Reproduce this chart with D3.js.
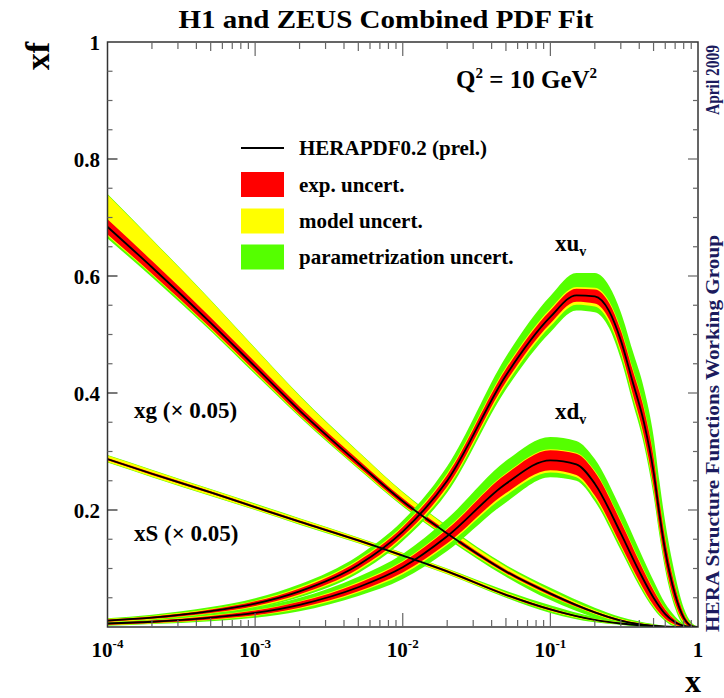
<!DOCTYPE html>
<html><head><meta charset="utf-8">
<script src="https://cdn.jsdelivr.net/npm/d3@7"></script>
<style>body{margin:0;background:#fff}svg{display:block}text{font-family:"Liberation Serif","DejaVu Serif",serif;font-weight:bold}</style>
</head><body><svg id="c" width="724" height="698"></svg>
<script>
// ---- data ----
const yTicks = [0.2, 0.4, 0.6, 0.8, 1];
const yTickLabels = ["0.2", "0.4", "0.6", "0.8", "1"];
const xDecades = [1e-4, 1e-3, 1e-2, 1e-1, 1];
const xDecadeExp = ["-4", "-3", "-2", "-1", ""];

const xuvX = [1e-4, 2e-4, 5e-4, 1e-3, 2e-3, 5e-3, 1e-2, 2e-2, 5e-2, 0.1, 0.15, 0.2, 0.25, 0.3, 0.36, 0.43, 0.5, 0.55, 0.6, 0.7, 0.8, 0.9, 1];
const xuvC = [0.011, 0.016, 0.027, 0.04, 0.061, 0.106, 0.163, 0.25, 0.43, 0.53, 0.567, 0.565, 0.54, 0.49, 0.42, 0.35, 0.265, 0.19, 0.13, 0.055, 0.016, 0.002, 0];
const xuvExp = [0.002, 0.002, 0.003, 0.004, 0.005, 0.007, 0.008, 0.01, 0.011, 0.011, 0.011, 0.012, 0.014, 0.017, 0.02, 0.023, 0.025, 0.023, 0.02, 0.014, 0.007, 0.002, 0];
const xuvModUp = [0.001, 0.001, 0.001, 0.001, 0.002, 0.002, 0.002, 0.003, 0.003, 0.003, 0.003, 0.003, 0.003, 0.003, 0.003, 0.003, 0.003, 0.003, 0.003, 0.002, 0.001, 0.001, 0];
const xuvModDn = [0.001, 0.001, 0.001, 0.002, 0.002, 0.003, 0.003, 0.004, 0.005, 0.005, 0.005, 0.005, 0.005, 0.005, 0.005, 0.005, 0.005, 0.004, 0.004, 0.003, 0.002, 0.001, 0];
const xuvParUp = [0.001, 0.002, 0.003, 0.004, 0.005, 0.007, 0.009, 0.012, 0.018, 0.022, 0.024, 0.025, 0.026, 0.028, 0.03, 0.032, 0.033, 0.03, 0.026, 0.018, 0.009, 0.003, 0];
const xuvParDn = [0.001, 0.001, 0.002, 0.002, 0.003, 0.004, 0.005, 0.006, 0.008, 0.01, 0.01, 0.01, 0.01, 0.01, 0.01, 0.01, 0.01, 0.009, 0.008, 0.006, 0.003, 0.001, 0];

const xdvX = [1e-4, 2e-4, 5e-4, 1e-3, 2e-3, 5e-3, 1e-2, 2e-2, 5e-2, 0.1, 0.15, 0.2, 0.3, 0.4, 0.5, 0.6, 0.7, 0.8, 0.9, 1];
const xdvC = [0.006, 0.009, 0.016, 0.024, 0.038, 0.068, 0.102, 0.155, 0.245, 0.285, 0.278, 0.245, 0.16, 0.095, 0.05, 0.022, 0.008, 0.002, 0.0003, 0];
const xdvExp = [0.002, 0.002, 0.003, 0.004, 0.005, 0.007, 0.009, 0.012, 0.016, 0.017, 0.018, 0.02, 0.02, 0.017, 0.013, 0.008, 0.004, 0.001, 0, 0];
const xdvModUp = [0.001, 0.001, 0.001, 0.001, 0.001, 0.002, 0.002, 0.002, 0.002, 0.002, 0.002, 0.002, 0.002, 0.002, 0.002, 0.001, 0.001, 0, 0, 0];
const xdvModDn = [0.001, 0.001, 0.001, 0.001, 0.002, 0.002, 0.003, 0.003, 0.004, 0.004, 0.004, 0.004, 0.003, 0.003, 0.002, 0.001, 0.001, 0, 0, 0];
const xdvParUp = [0.001, 0.002, 0.003, 0.004, 0.006, 0.009, 0.012, 0.016, 0.021, 0.021, 0.02, 0.02, 0.02, 0.018, 0.014, 0.009, 0.005, 0.002, 0, 0];
const xdvParDn = [0.001, 0.001, 0.002, 0.003, 0.004, 0.006, 0.008, 0.01, 0.012, 0.008, 0.006, 0.006, 0.006, 0.005, 0.004, 0.003, 0.002, 0.001, 0, 0];

const xgX = [1e-4, 2e-4, 5e-4, 1e-3, 2e-3, 5e-3, 1e-2, 2e-2, 5e-2, 0.1, 0.2, 0.3, 0.5, 0.7, 1];
const xgC = [0.684, 0.615, 0.52, 0.445, 0.37, 0.28, 0.215, 0.16, 0.095, 0.057, 0.025, 0.011, 0.002, 0.0003, 0];
const xgExp = [0.013, 0.011, 0.009, 0.008, 0.007, 0.006, 0.005, 0.004, 0.003, 0.003, 0.002, 0.002, 0.001, 0, 0];
const xgModUp = [0.042, 0.036, 0.029, 0.023, 0.018, 0.013, 0.01, 0.007, 0.005, 0.003, 0.002, 0.001, 0.001, 0, 0];
const xgModDn = [0.002, 0.002, 0.002, 0.002, 0.002, 0.002, 0.002, 0.002, 0.002, 0.002, 0.001, 0.001, 0, 0, 0];
const xgParUp = [0.001, 0.001, 0.001, 0.001, 0.001, 0.001, 0.001, 0.002, 0.003, 0.004, 0.004, 0.003, 0.001, 0, 0];
const xgParDn = [0.005, 0.004, 0.003, 0.003, 0.002, 0.002, 0.002, 0.003, 0.004, 0.006, 0.006, 0.004, 0.001, 0, 0];

const xsX = [1e-4, 2e-4, 5e-4, 1e-3, 2e-3, 5e-3, 1e-2, 2e-2, 5e-2, 0.1, 0.2, 0.3, 0.5, 0.7, 1];
const xsC = [0.287, 0.262, 0.23, 0.205, 0.18, 0.148, 0.122, 0.095, 0.055, 0.03, 0.012, 0.006, 0.0015, 0.0003, 0];
const xsExp = [0.002, 0.002, 0.002, 0.002, 0.002, 0.002, 0.002, 0.002, 0.002, 0.002, 0.001, 0.001, 0, 0, 0];
const xsModUp = [0.004, 0.004, 0.003, 0.003, 0.003, 0.002, 0.002, 0.002, 0.002, 0.001, 0.001, 0.001, 0, 0, 0];
const xsModDn = [0.003, 0.003, 0.003, 0.002, 0.002, 0.002, 0.002, 0.002, 0.001, 0.001, 0.001, 0, 0, 0, 0];
const xsParUp = [0.001, 0.001, 0.001, 0.001, 0.001, 0.001, 0.001, 0.001, 0.003, 0.004, 0.003, 0.002, 0.001, 0, 0];
const xsParDn = [0.001, 0.001, 0.001, 0.001, 0.001, 0.001, 0.001, 0.001, 0.002, 0.003, 0.002, 0.001, 0, 0, 0];

const legendItems = ["HERAPDF0.2 (prel.)", "exp. uncert.", "model uncert.", "parametrization uncert."];
const legendColors = [null, "#ff0000", "#ffff00", "#55ff00"];

// ---- drawing ----
const svg = d3.select("#c");
const L = 107.5, R = 698, T = 42, B = 627;
const x = d3.scaleLog().domain([1e-4, 1]).range([L, R]);
const y = d3.scaleLinear().domain([0, 1]).range([B, T]);

svg.append("defs").append("clipPath").attr("id", "clip")
  .append("rect").attr("x", L).attr("y", T).attr("width", R - L).attr("height", B - T);

function pdf(X, C, E, MU, MD, PU, PD) {
  return X.map((xv, i) => ({
    x: xv, c: C[i],
    eLo: C[i] - E[i], eHi: C[i] + E[i],
    mLo: C[i] - E[i] - MD[i], mHi: C[i] + E[i] + MU[i],
    pLo: C[i] - E[i] - MD[i] - PD[i], pHi: C[i] + E[i] + MU[i] + PU[i]
  }));
}
const pdfs = [
  pdf(xgX, xgC, xgExp, xgModUp, xgModDn, xgParUp, xgParDn),
  pdf(xsX, xsC, xsExp, xsModUp, xsModDn, xsParUp, xsParDn),
  pdf(xdvX, xdvC, xdvExp, xdvModUp, xdvModDn, xdvParUp, xdvParDn),
  pdf(xuvX, xuvC, xuvExp, xuvModUp, xuvModDn, xuvParUp, xuvParDn)
];

const g = svg.append("g").attr("clip-path", "url(#clip)");
const cv = d3.curveMonotoneX;
const area = (lo, hi) => d3.area().curve(cv).x(d => x(d.x)).y0(d => y(Math.max(0, d[lo]))).y1(d => y(d[hi]));
const line = d3.line().curve(cv).x(d => x(d.x)).y(d => y(d.c));
pdfs.forEach(p => {
  g.append("path").datum(p).attr("d", area("pLo", "pHi")).attr("fill", legendColors[3]);
  g.append("path").datum(p).attr("d", area("mLo", "mHi")).attr("fill", legendColors[2]);
  g.append("path").datum(p).attr("d", area("eLo", "eHi")).attr("fill", legendColors[1]);
});
pdfs.forEach(p => {
  g.append("path").datum(p).attr("d", line).attr("fill", "none").attr("stroke", "#000").attr("stroke-width", 1.8);
});

// frame + ticks
const tickCol = "#666";
svg.append("rect").attr("x", L).attr("y", T).attr("width", R - L).attr("height", B - T)
  .attr("fill", "none").attr("stroke", "#333").attr("stroke-width", 1.5);
const yMinor = d3.range(0.05, 1.0, 0.05);
yMinor.forEach(v => {
  const major = yTicks.some(t => Math.abs(t - v) < 1e-6);
  const len = major ? 10 : 5;
  svg.append("line").attr("x1", L).attr("x2", L + len).attr("y1", y(v)).attr("y2", y(v)).attr("stroke", major ? "#222" : tickCol).attr("stroke-width", 1.2);
  svg.append("line").attr("x1", R).attr("x2", R - len).attr("y1", y(v)).attr("y2", y(v)).attr("stroke", tickCol).attr("stroke-width", 1.2);
});
x.ticks().forEach(v => {
  const m = Math.round(v / Math.pow(10, Math.floor(Math.log10(v) + 1e-9)));
  if (v >= 1 || v <= 1e-4) return;
  const len = m === 1 ? 14 : (m === 5 ? 9 : 7);
  svg.append("line").attr("x1", x(v)).attr("x2", x(v)).attr("y1", B).attr("y2", B - len).attr("stroke", tickCol).attr("stroke-width", 1.2);
  svg.append("line").attr("x1", x(v)).attr("x2", x(v)).attr("y1", T).attr("y2", T + len).attr("stroke", tickCol).attr("stroke-width", 1.2);
});

// tick labels
yTicks.forEach((v, i) => {
  svg.append("text").attr("x", 100).attr("y", y(v) + 8).attr("text-anchor", "end")
    .attr("font-size", 21).text(yTickLabels[i]);
});
xDecades.forEach((v, i) => {
  const t = svg.append("text").attr("x", x(v)).attr("y", 657).attr("text-anchor", "middle").attr("font-size", 21);
  if (xDecadeExp[i] === "") { t.text("1"); }
  else {
    t.append("tspan").text("10");
    t.append("tspan").attr("dy", -9).attr("font-size", 13).text(xDecadeExp[i]);
  }
});

// axis titles
svg.append("text").attr("transform", "translate(49,42) rotate(-90)").attr("text-anchor", "end").attr("font-size", 34).text("xf");
svg.append("text").attr("x", 701).attr("y", 692).attr("text-anchor", "end").attr("font-size", 32).text("x");

// title
svg.append("text").attr("x", 386).attr("y", 28).attr("text-anchor", "middle").attr("font-size", 25)
  .attr("textLength", 415).attr("lengthAdjust", "spacingAndGlyphs").text("H1 and ZEUS Combined PDF Fit");

// Q2 label
const q = svg.append("text").attr("x", 456).attr("y", 88).attr("font-size", 25);
q.append("tspan").text("Q");
q.append("tspan").attr("dy", -10).attr("font-size", 15).text("2");
q.append("tspan").attr("dy", 10).text(" = 10 GeV");
q.append("tspan").attr("dy", -10).attr("font-size", 15).text("2");

// right-side texts
svg.append("text").attr("transform", "translate(719,45) rotate(-90)").attr("text-anchor", "end").attr("font-size", 18)
  .attr("fill", "#1b1b5e").attr("textLength", 70).attr("lengthAdjust", "spacingAndGlyphs").text("April 2009");
svg.append("text").attr("transform", "translate(719,632) rotate(-90)").attr("text-anchor", "start").attr("font-size", 18)
  .attr("fill", "#1b1b5e").attr("textLength", 397).attr("lengthAdjust", "spacingAndGlyphs").text("HERA Structure Functions Working Group");

// legend
const lx = 241, lw = 43;
const rowsY = [148, 184.5, 221, 257];
legendItems.forEach((name, i) => {
  if (i === 0) {
    svg.append("line").attr("x1", lx).attr("x2", lx + lw).attr("y1", rowsY[i]).attr("y2", rowsY[i]).attr("stroke", "#000").attr("stroke-width", 1.8);
  } else {
    svg.append("rect").attr("x", lx).attr("y", rowsY[i] - 12.5).attr("width", lw).attr("height", 25).attr("fill", legendColors[i]);
  }
  svg.append("text").attr("x", 299).attr("y", rowsY[i] + 7).attr("font-size", 21).text(name);
});

// curve labels
function lab(px, py, main, sub) {
  const t = svg.append("text").attr("x", px).attr("y", py).attr("font-size", 23);
  t.append("tspan").text(main);
  if (sub) t.append("tspan").attr("dy", 5).attr("font-size", 14).text(sub);
}
lab(555, 251, "xu", "v");
lab(555, 419, "xd", "v");
lab(134, 418, "xg (× 0.05)");
lab(134, 541, "xS (× 0.05)");
</script></body></html>
